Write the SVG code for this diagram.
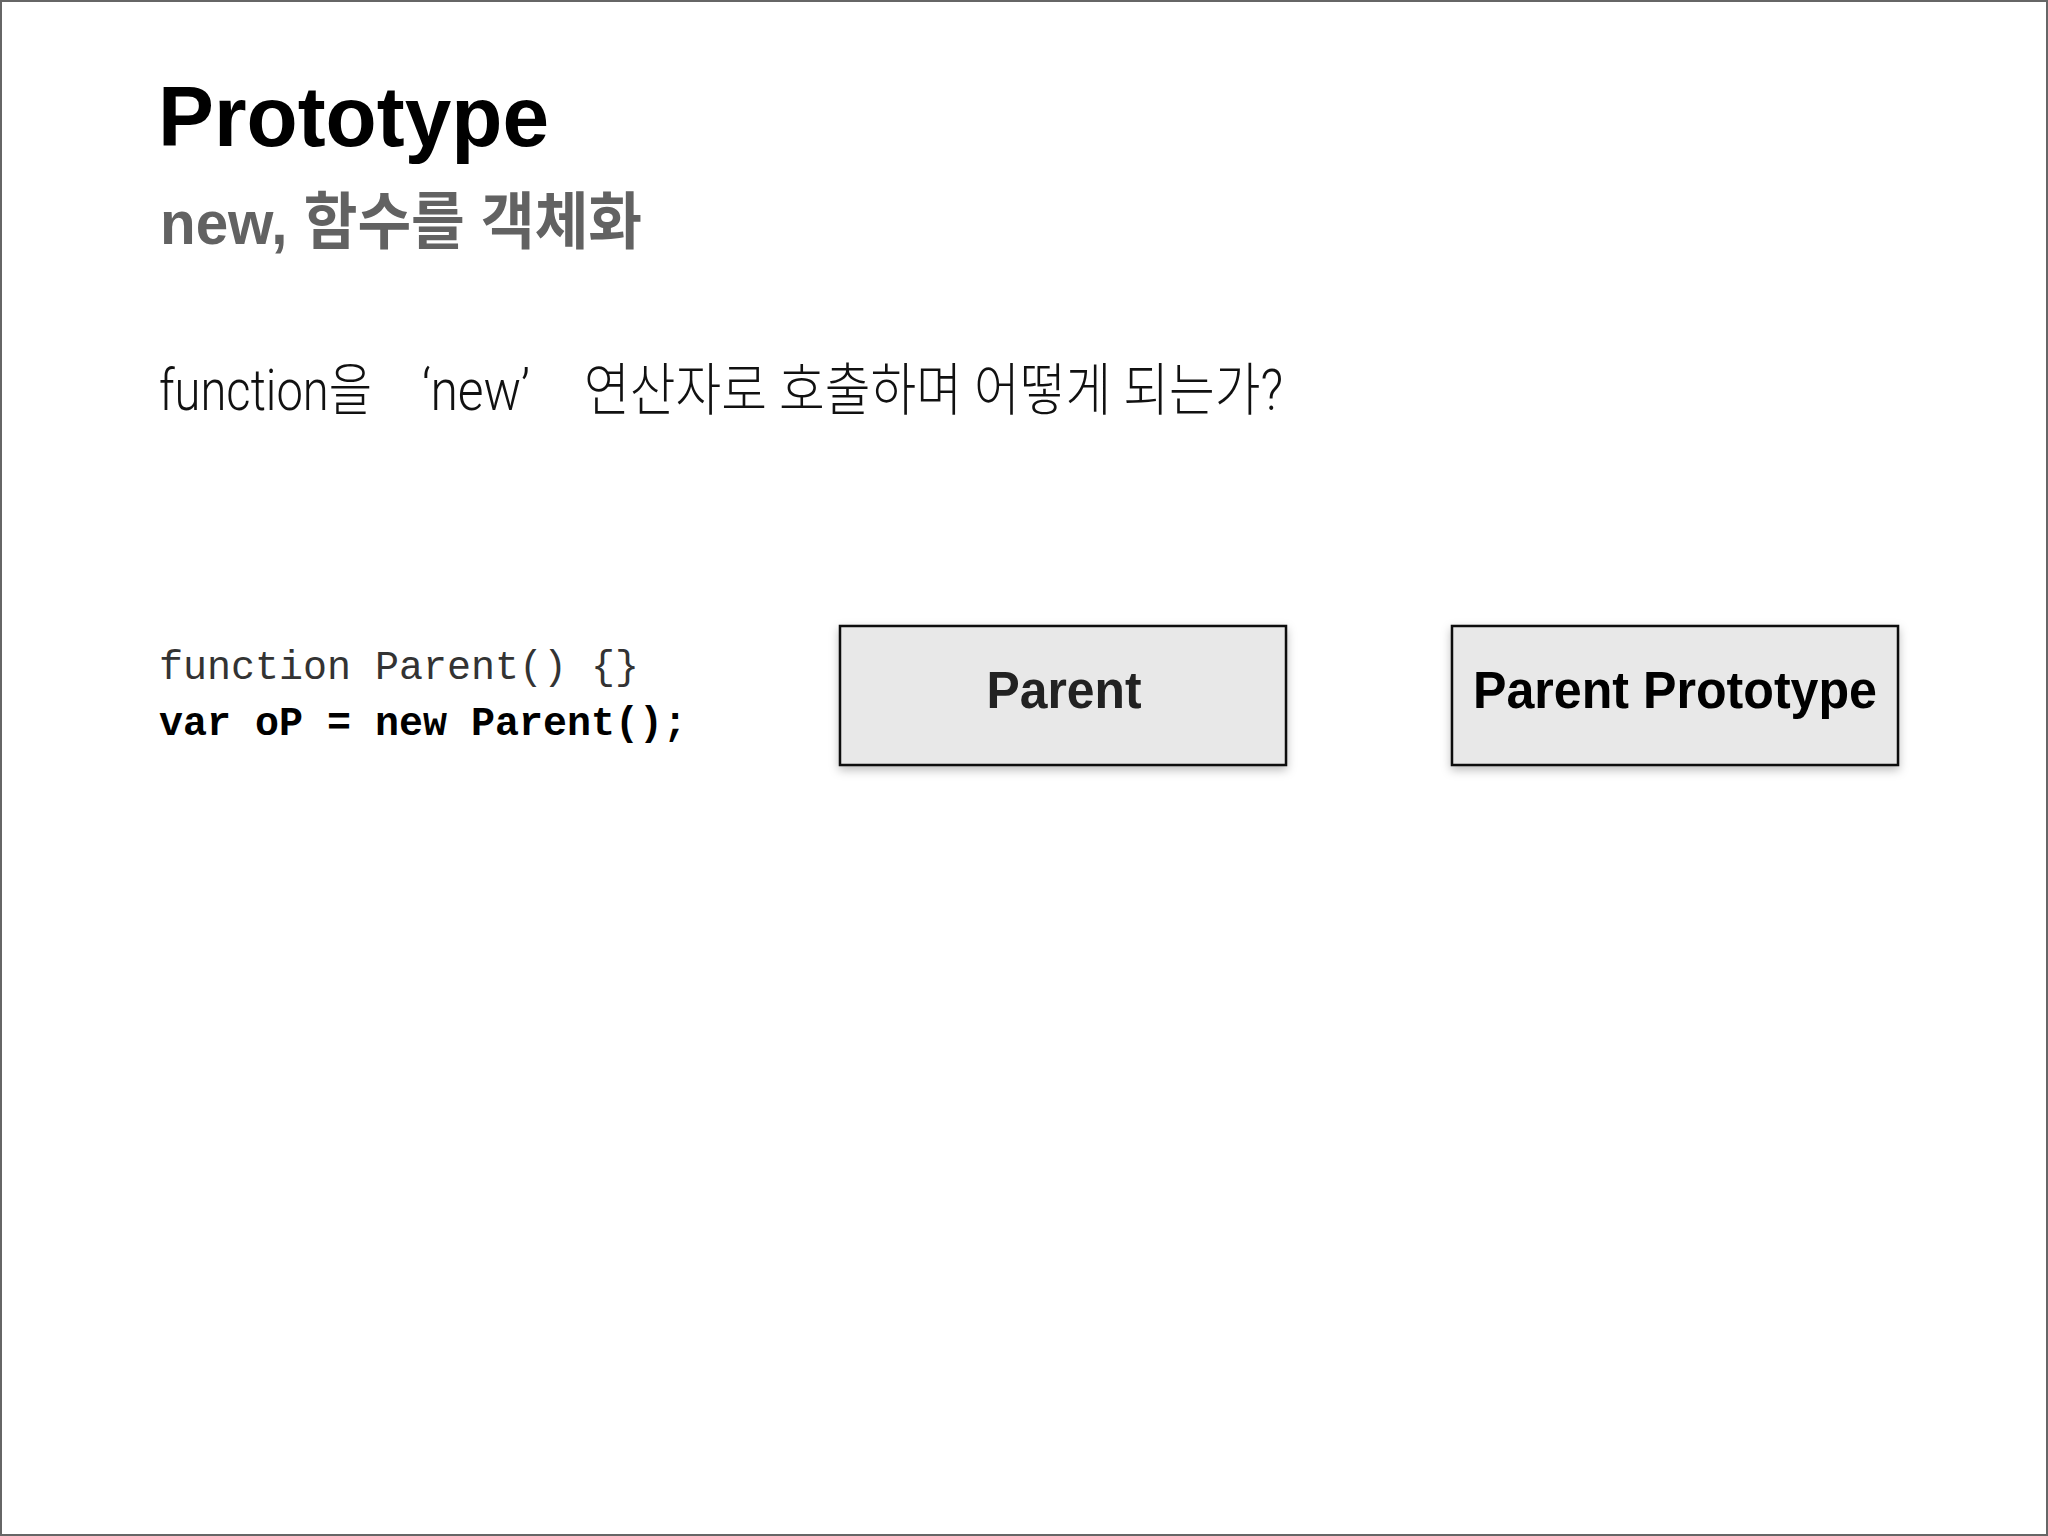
<svg xmlns="http://www.w3.org/2000/svg" width="2048" height="1536" viewBox="0 0 2048 1536">
  <defs>
    <style>
      .title { font-family: "Liberation Sans", Arial, sans-serif; font-weight: bold; font-size: 85px; fill: #000; }
      .sub { font-family: "Liberation Sans", "Noto Sans CJK KR", sans-serif; font-weight: bold; font-size: 62px; fill: #626262; }
      .body { font-family: Roboto, "Noto Sans CJK KR", sans-serif; font-weight: 300; font-size: 57px; fill: #111; }
      .code { font-family: "Liberation Mono", "Courier New", monospace; font-size: 40px; }
      .code1 { fill: #333; }
      .code2 { fill: #000; font-weight: bold; }
      .box { fill: #e8e8e8; stroke: #111; stroke-width: 2.5; filter: url(#shadow); }
      .label { font-family: "Liberation Sans", Arial, sans-serif; font-weight: bold; font-size: 51px; text-anchor: middle; }
    </style>
    <filter id="shadow" x="-10%" y="-10%" width="120%" height="130%">
      <feDropShadow dx="0" dy="4" stdDeviation="5" flood-color="#000" flood-opacity="0.25"/>
    </filter>
  </defs>
  <rect x="0" y="0" width="2048" height="1536" fill="#fff"/>
  <rect x="1" y="1" width="2046" height="1534" fill="none" stroke="#666" stroke-width="2"/>

  <text class="title" x="158" y="146" textLength="391" lengthAdjust="spacingAndGlyphs">Prototype</text>
  <text class="sub" x="160" y="244" textLength="482" lengthAdjust="spacingAndGlyphs">new, 함수를 객체화</text>
  <g id="question">
    <text class="body" x="159" y="410" textLength="213" lengthAdjust="spacingAndGlyphs">function을</text>
    <text class="body" x="422" y="410" textLength="108" lengthAdjust="spacingAndGlyphs">‘new’</text>
    <text class="body" x="584" y="410" textLength="699" lengthAdjust="spacingAndGlyphs">연산자로 호출하며 어떻게 되는가?</text>
  </g>

  <g id="code">
    <text class="code code1" x="159" y="679">function Parent() {}</text>
    <text class="code code2" x="159" y="735">var oP = new Parent();</text>
  </g>

  <g id="connectors"></g>

  <g id="node-parent">
    <rect class="box" x="840" y="626" width="446" height="139"/>
    <text class="label" x="1064" y="708" fill="#222" textLength="155" lengthAdjust="spacingAndGlyphs">Parent</text>
  </g>
  <g id="node-parent-prototype">
    <rect class="box" x="1452" y="626" width="446" height="139"/>
    <text class="label" x="1675" y="708" fill="#000" textLength="404" lengthAdjust="spacingAndGlyphs">Parent Prototype</text>
  </g>
</svg>
